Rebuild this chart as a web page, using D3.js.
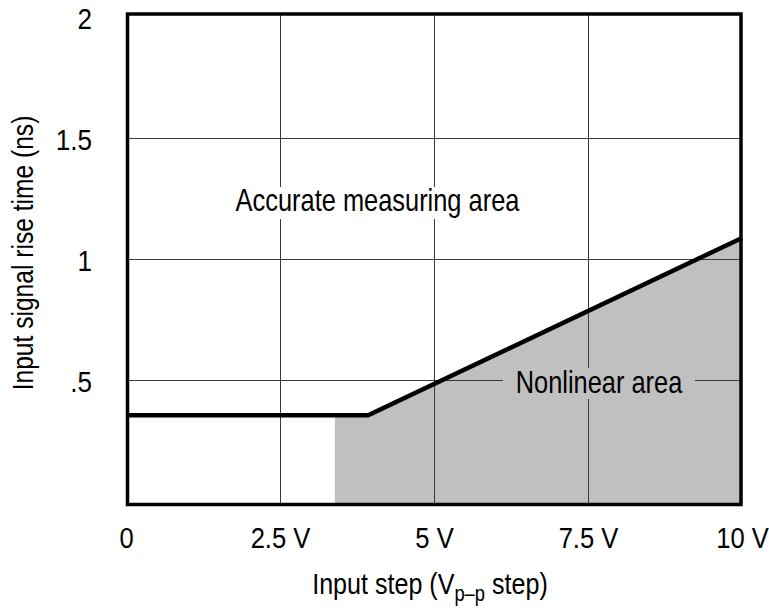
<!DOCTYPE html>
<html>
<head>
<meta charset="utf-8">
<script src="https://cdn.jsdelivr.net/npm/d3@7"></script>
<style>
  html, body { margin: 0; padding: 0; background: #fff; }
  svg { display: block; }
</style>
</head>
<body>
<svg id="chart" width="769" height="612"></svg>
<script>
// ---- data ----
const xTicks = [0, 2.5, 5, 7.5, 10];
const xTickLabels = ["0", "2.5 V", "5 V", "7.5 V", "10 V"];
const yTicks = [0.5, 1, 1.5, 2];
const yTickLabels = [".5", "1", "1.5", "2"];
const gridX = [2.5, 5, 7.5];
const gridY = [0.5, 1, 1.5];
// boundary line (input step V, rise time ns)
const lineX = [0, 3.93, 10];
const lineY = [0.352, 0.352, 1.085];
// nonlinear (shaded) area top edge
const fillX = [3.39, 3.93, 10];
const fillTop = [0.352, 0.352, 1.085];
const annotations = ["Accurate measuring area", "Nonlinear area"];

// ---- setup ----
const svg = d3.select("#chart");
const x = d3.scaleLinear().domain([0, 10]).range([126, 742]);
const y = d3.scaleLinear().domain([0, 2]).range([500.5, 16.5]);
const FRAME = { left: 127.5, top: 14, right: 741, bottom: 504.5 };

// font detection: narrow face available?
const FONT_N = "'Liberation Sans Narrow', 'Arial Narrow'";
const probe = svg.append("text").attr("font-size", 30).text("Accurate measuring area");
probe.attr("font-family", FONT_N + ", 'Liberation Sans'");
const wN = probe.node().getComputedTextLength();
probe.attr("font-family", "'Liberation Sans'");
const wR = probe.node().getComputedTextLength();
probe.remove();
const haveNarrow = wN < wR * 0.95;
const FONT = haveNarrow ? FONT_N + ", 'Liberation Sans', sans-serif" : "'Liberation Sans', Arial, sans-serif";
const SX = haveNarrow ? 1 : 0.82;

function addText(g, str, cx, cy, anchor, size, mul) {
  return g.append("text")
    .attr("font-family", FONT)
    .attr("font-size", size)
    .attr("fill", "#000")
    .attr("text-anchor", anchor)
    .attr("transform", `translate(${cx},${cy}) scale(${SX * (mul || 1)},1)`)
    .text(str);
}

// ---- shaded area ----
const fillData = fillX.map((v, i) => [v, fillTop[i]]);
svg.append("path")
  .datum(fillData)
  .attr("fill", "#c0c0c0")
  .attr("d", d3.area().x(d => x(d[0])).y0(FRAME.bottom).y1(d => y(d[1])));

// ---- gridlines ----
const grid = svg.append("g").attr("stroke", "#3a3a3a").attr("stroke-width", 1);
grid.selectAll("line.vx").data(gridX).enter().append("line")
  .attr("x1", d => Math.round(x(d)) + 0.5).attr("x2", d => Math.round(x(d)) + 0.5)
  .attr("y1", FRAME.top).attr("y2", FRAME.bottom);
grid.selectAll("line.hy").data(gridY).enter().append("line")
  .attr("y1", d => Math.round(y(d)) + 0.5).attr("y2", d => Math.round(y(d)) + 0.5)
  .attr("x1", FRAME.left).attr("x2", FRAME.right);

// ---- annotation labels with backgrounds ----
const ann = svg.append("g");
ann.append("rect").attr("x", 232).attr("y", 187).attr("width", 292).attr("height", 32).attr("fill", "#fff");
addText(ann, annotations[0], 377.5, 211, "middle", 31);
ann.append("rect").attr("x", 503).attr("y", 368).attr("width", 192).attr("height", 31).attr("fill", "#c0c0c0");
addText(ann, annotations[1], 599, 392.5, "middle", 31);

// ---- boundary line ----
const lineData = lineX.map((v, i) => [v, lineY[i]]);
svg.append("path")
  .datum(lineData)
  .attr("fill", "none")
  .attr("stroke", "#000")
  .attr("stroke-width", 4.5)
  .attr("stroke-linejoin", "miter")
  .attr("d", d3.line().x(d => x(d[0])).y(d => y(d[1])));

// ---- frame ----
svg.append("rect")
  .attr("x", FRAME.left).attr("y", FRAME.top)
  .attr("width", FRAME.right - FRAME.left).attr("height", FRAME.bottom - FRAME.top)
  .attr("fill", "none").attr("stroke", "#000").attr("stroke-width", 3.5);

// ---- tick labels via axes ----
const xAxis = d3.axisBottom(x).tickValues(xTicks).tickFormat((d, i) => xTickLabels[i]).tickSize(0);
const gx = svg.append("g").call(xAxis);
gx.select(".domain").remove();
gx.selectAll("text").remove();
gx.selectAll(".tick").each(function (d, i) {
  addText(d3.select(this), xTickLabels[i], 0, 548, "middle", 30, 1.04);
});

const yAxis = d3.axisLeft(y).tickValues(yTicks).tickFormat((d, i) => yTickLabels[i]).tickSize(0);
const gy = svg.append("g").call(yAxis);
gy.select(".domain").remove();
gy.selectAll("text").remove();
gy.selectAll(".tick").each(function (d, i) {
  addText(d3.select(this), yTickLabels[i], 92, 12, "end", 30, 1.06);
});

// ---- axis titles ----
const xt = svg.append("text")
  .attr("font-family", FONT).attr("font-size", 30).attr("fill", "#000")
  .attr("text-anchor", "middle")
  .attr("transform", `translate(430,594) scale(${SX * 1.02},1)`);
xt.append("tspan").text("Input step (V");
xt.append("tspan").attr("font-size", 22).attr("dy", 7).text("p\u2013p");
xt.append("tspan").attr("dy", -7).text(" step)");

svg.append("text")
  .attr("font-family", FONT).attr("font-size", 30).attr("fill", "#000")
  .attr("text-anchor", "middle")
  .attr("transform", `translate(33,253) rotate(-90) scale(${SX},1)`)
  .text("Input signal rise time (ns)");
</script>
</body>
</html>
